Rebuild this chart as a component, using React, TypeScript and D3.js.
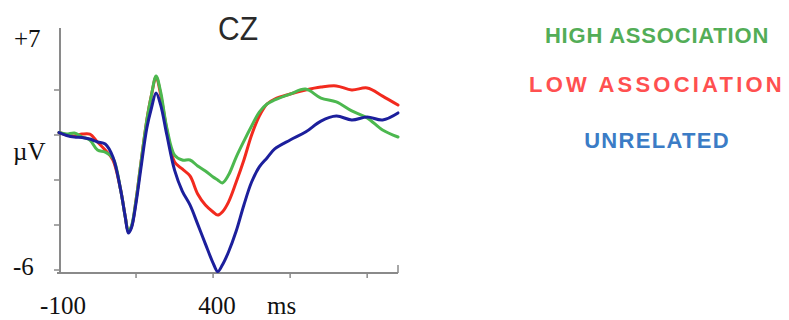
import React from "react";
import * as d3 from "d3";

// time points (ms)
const times = [-100, -75, -50, -25, 0, 25, 50, 75, 100, 115, 125, 135, 150, 165, 185, 200, 215, 230, 250, 275, 300, 325, 350, 375, 400, 415, 430, 450, 475, 500, 525, 550, 575, 600, 650, 700, 750, 800, 850, 900, 950, 1000];

// µV values
const highAssociation = [0.11, 0.04, 0.09, -0.09, -0.22, -0.67, -0.76, -1.02, -2.44, -3.64, -4.27, -4.04, -2.89, -1.33, 0.67, 1.78, 2.62, 1.91, 0.31, -0.89, -1.11, -1.11, -1.38, -1.6, -1.87, -2.0, -2.13, -1.78, -0.98, -0.27, 0.4, 1.02, 1.38, 1.56, 1.82, 2.04, 1.64, 1.47, 1.07, 0.76, 0.22, -0.09];
const lowAssociation = [0.11, 0.0, -0.04, 0.04, 0.04, -0.31, -0.67, -1.11, -2.44, -3.64, -4.27, -4.09, -2.89, -1.33, 0.67, 1.78, 2.58, 1.78, 0.22, -1.2, -1.51, -1.82, -2.62, -3.11, -3.42, -3.56, -3.42, -2.98, -2.09, -1.11, 0.0, 0.84, 1.38, 1.6, 1.82, 2.0, 2.13, 2.18, 2.0, 2.09, 1.73, 1.33];
const unrelated = [0.11, -0.02, -0.09, -0.11, -0.18, -0.31, -0.4, -0.98, -2.44, -3.64, -4.36, -4.13, -3.02, -1.56, 0.31, 1.2, 1.87, 1.33, 0.0, -1.56, -2.49, -3.11, -3.96, -4.84, -5.69, -6.07, -5.78, -5.2, -4.27, -3.11, -2.09, -1.42, -1.02, -0.62, -0.22, 0.13, 0.62, 0.84, 0.67, 0.8, 0.67, 0.98];

const seriesNames = ["HIGH ASSOCIATION", "LOW ASSOCIATION", "UNRELATED"];
const xTicks = [-100, 150, 400, 650, 900];
const xLabels = ["-100", "400"];
const xLabelValues = [-100, 400];
const yTicks = [-6, -4, -2, 0, 2];
const yTopLabel = "+7";
const yBottomLabel = "-6";
const yUnit = "µV";
const xUnit = "ms";
const title = "CZ";

export default function App() {
  const W = 789, H = 320;
  const x = d3.scaleLinear().domain([-100, 1000]).range([59, 398]);
  const y = d3.scaleLinear().domain([-6, 0]).range([270, 135]);
  const yTop = y.invert(28);
  const axisX = 60;
  const axisY = 273;

  const line = d3
    .line<[number, number]>()
    .x((d) => x(d[0]))
    .y((d) => y(d[1]))
    .curve(d3.curveCatmullRom.alpha(0.5));

  const mk = (vals: number[]) => line(times.map((t, i) => [t, vals[i]] as [number, number])) || "";

  const lineColors = { high: "#4cb84f", low: "#f22a1e", unr: "#1c1f9c" };
  const legendColors = ["#53ad57", "#ff5050", "#3b7cc6"];
  const legendY = [43, 92, 148];
  const legendSpacing = [0.8, 3.2, 1.3];

  const serif = "'Liberation Serif', 'Times New Roman', serif";
  const gray = "#8a8a8a";

  return (
    <svg width={W} height={H} style={{ position: "absolute", left: 0, top: 0, background: "#fff" }}>
      <rect width={W} height={H} fill="#fff" />
      {/* title */}
      <text x={238} y={40} textAnchor="middle" fontFamily="'Liberation Sans', Arial, sans-serif" fontSize={34} fill="#2a2a2a" textLength={40} lengthAdjust="spacingAndGlyphs">
        {title}
      </text>
      {/* y axis */}
      <line x1={axisX} x2={axisX} y1={y(yTop)} y2={axisY} stroke={gray} strokeWidth={2} />
      {yTicks.map((t) => (
        <line key={t} x1={axisX - 6} x2={axisX} y1={y(t)} y2={y(t)} stroke={gray} strokeWidth={1.5} />
      ))}
      {/* x axis */}
      <line x1={57} x2={x(1000)} y1={axisY} y2={axisY} stroke={gray} strokeWidth={2} />
      {xTicks.slice(1).map((t) => (
        <line key={t} x1={x(t)} x2={x(t)} y1={axisY} y2={axisY + 5} stroke={gray} strokeWidth={1.5} />
      ))}
      <line x1={x(1000)} x2={x(1000)} y1={axisY - 8} y2={axisY} stroke={gray} strokeWidth={1.5} />
      {/* labels */}
      <text x={14} y={47} fontFamily={serif} fontSize={25} fill="#111">{yTopLabel}</text>
      <text x={13} y={160} fontFamily={serif} fontSize={25} fill="#111">{yUnit}</text>
      <text x={13} y={y(-6) + 5} fontFamily={serif} fontSize={25} fill="#111">{yBottomLabel}</text>
      {xLabelValues.map((v, i) => (
        <text key={v} x={x(v) + 4} y={314} textAnchor="middle" fontFamily={serif} fontSize={25} fill="#111">
          {xLabels[i]}
        </text>
      ))}
      <text x={267} y={314} fontFamily={serif} fontSize={25} fill="#111">{xUnit}</text>
      {/* curves */}
      <g fill="none" strokeWidth={3} strokeLinejoin="round" strokeLinecap="round">
        <path d={mk(lowAssociation)} stroke={lineColors.low} />
        <path d={mk(highAssociation)} stroke={lineColors.high} />
        <path d={mk(unrelated)} stroke={lineColors.unr} />
      </g>
      {/* legend */}
      {seriesNames.map((n, i) => (
        <text
          key={n}
          x={657}
          y={legendY[i]}
          textAnchor="middle"
          fontFamily="'Liberation Sans', Arial, sans-serif"
          fontWeight="bold"
          fontSize={22}
          letterSpacing={legendSpacing[i]}
          fill={legendColors[i]}
        >
          {n}
        </text>
      ))}
    </svg>
  );
}
